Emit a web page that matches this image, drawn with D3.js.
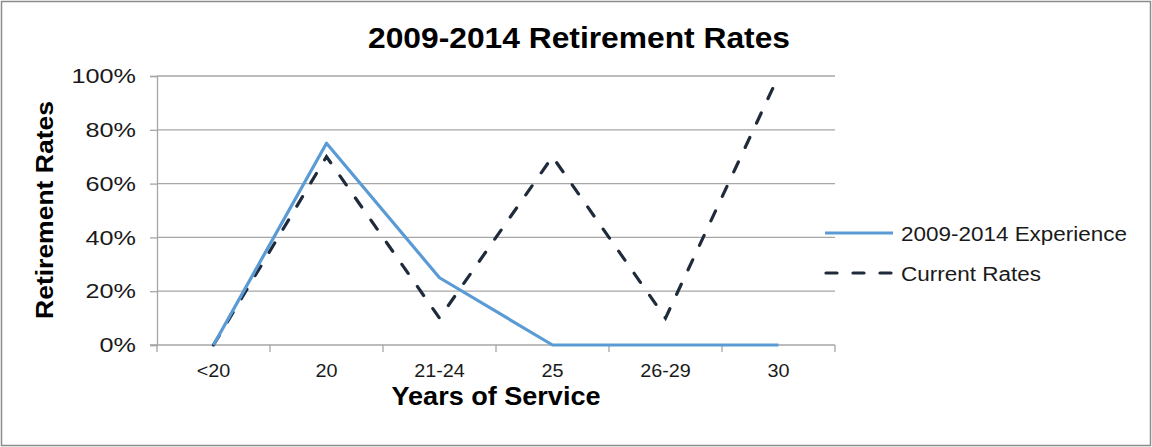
<!DOCTYPE html>
<html>
<head>
<meta charset="utf-8">
<script src="https://cdn.jsdelivr.net/npm/d3@7"></script>
<style>
  html, body { margin: 0; padding: 0; background: #fff; }
  svg { display: block; font-family: "Liberation Sans", Arial, sans-serif; }
</style>
</head>
<body>
<svg id="chart" width="1152" height="447"></svg>
<script>
// Categories and series
const categories = ["<20", "20", "21-24", "25", "26-29", "30"];
const experience = [0, 0.75, 0.25, 0, 0, 0];
const currentRates = [0, 0.70, 0.10, 0.70, 0.10, 1.00];
const yTicks = [0, 0.2, 0.4, 0.6, 0.8, 1.0];
const seriesNames = ["2009-2014 Experience", "Current Rates"];

const svg = d3.select("#chart");
const W = 1152, H = 447;
const plot = { left: 157, right: 835, top: 76, bottom: 345 };
const dash = "11,16";

// widen text horizontally by a factor, keeping the glyph height
function widen(sel, k) {
  sel.each(function () {
    const w = this.getComputedTextLength();
    d3.select(this).attr("textLength", w * k).attr("lengthAdjust", "spacingAndGlyphs");
  });
}

// outer frame
svg.append("rect")
  .attr("x", 1.5).attr("y", 1.5)
  .attr("width", W - 3).attr("height", H - 3)
  .attr("fill", "#fff").attr("stroke", "#8c8c8c").attr("stroke-width", 1.5);

const x = d3.scaleBand().domain(categories).range([plot.left, plot.right]);
const y = d3.scaleLinear().domain([0, 1]).range([plot.bottom, plot.top]);

// horizontal gridlines
svg.append("g").selectAll("line").data(yTicks.filter(d => d > 0)).join("line")
  .attr("x1", plot.left).attr("x2", plot.right)
  .attr("y1", d => y(d)).attr("y2", d => y(d))
  .attr("stroke", "#a6a6a6").attr("stroke-width", 1.3);

// y axis
const yAxis = svg.append("g")
  .attr("transform", `translate(${plot.left},0)`)
  .call(d3.axisLeft(y).tickValues(yTicks).tickFormat(d3.format(".0%")).tickSize(7).tickPadding(14));
yAxis.select(".domain").attr("stroke", "#a6a6a6").attr("stroke-width", 1.3);
yAxis.selectAll(".tick line").attr("stroke", "#a6a6a6").attr("stroke-width", 1.3);
yAxis.selectAll(".tick text")
  .attr("font-size", 21).attr("fill", "#1a1a1a")
  .attr("font-family", "'Liberation Sans', Arial, sans-serif")
  .call(widen, 1.2);

// x axis with tick marks at category boundaries
const xAxisG = svg.append("g").attr("transform", `translate(0,${plot.bottom})`);
xAxisG.append("line")
  .attr("x1", plot.left - 7).attr("x2", plot.right)
  .attr("stroke", "#a6a6a6").attr("stroke-width", 1.3);
const bounds = categories.map(c => x(c)).concat([plot.right]);
xAxisG.selectAll("line.b").data(bounds).join("line").attr("class", "b")
  .attr("x1", d => d).attr("x2", d => d).attr("y1", 0).attr("y2", 7)
  .attr("stroke", "#a6a6a6").attr("stroke-width", 1.3);
xAxisG.selectAll("text").data(categories).join("text")
  .attr("x", d => x(d) + x.bandwidth() / 2).attr("y", 32)
  .attr("text-anchor", "middle").attr("font-size", 18).attr("fill", "#1a1a1a")
  .text(d => d)
  .call(widen, 1.1);

// series lines
const line = d3.line()
  .x((d, i) => x(categories[i]) + x.bandwidth() / 2)
  .y(d => y(d));

svg.append("path").datum(currentRates)
  .attr("d", line).attr("fill", "none")
  .attr("stroke", "#1f2a3a").attr("stroke-width", 3.2)
  .attr("stroke-linecap", "round")
  .attr("stroke-dasharray", dash);

svg.append("path").datum(experience)
  .attr("d", line).attr("fill", "none")
  .attr("stroke", "#5b9bd5").attr("stroke-width", 3.2)
  .attr("stroke-linejoin", "round");

// title
svg.append("text")
  .attr("x", 579).attr("y", 48).attr("text-anchor", "middle")
  .attr("font-size", 29).attr("font-weight", "bold").attr("fill", "#000")
  .text("2009-2014 Retirement Rates")
  .attr("textLength", 422).attr("lengthAdjust", "spacingAndGlyphs");

// axis titles
svg.append("text")
  .attr("x", 496).attr("y", 405).attr("text-anchor", "middle")
  .attr("font-size", 25).attr("font-weight", "bold").attr("fill", "#000")
  .text("Years of Service")
  .attr("textLength", 209).attr("lengthAdjust", "spacingAndGlyphs");

svg.append("text")
  .attr("transform", "translate(53,210) rotate(-90)")
  .attr("text-anchor", "middle")
  .attr("font-size", 24).attr("font-weight", "bold").attr("fill", "#000")
  .text("Retirement Rates")
  .attr("textLength", 218).attr("lengthAdjust", "spacingAndGlyphs");

// legend
const legend = svg.append("g");
const legendY = [233, 273];
const legendWidths = [226, 140];
const legendStyles = [
  { stroke: "#5b9bd5", dash: null, cap: "butt", x1: 825, x2: 893 },
  { stroke: "#1f2a3a", dash: dash, cap: "round", x1: 826, x2: 893 }
];
seriesNames.forEach((name, i) => {
  const s = legendStyles[i];
  legend.append("line")
    .attr("x1", s.x1).attr("x2", s.x2)
    .attr("y1", legendY[i]).attr("y2", legendY[i])
    .attr("stroke", s.stroke).attr("stroke-width", 3.2)
    .attr("stroke-linecap", s.cap)
    .attr("stroke-dasharray", s.dash);
  legend.append("text")
    .attr("x", 901).attr("y", legendY[i] + 7.5)
    .attr("font-size", 20).attr("fill", "#1a1a1a")
    .text(name)
    .attr("textLength", legendWidths[i]).attr("lengthAdjust", "spacingAndGlyphs");
});
</script>
</body>
</html>
